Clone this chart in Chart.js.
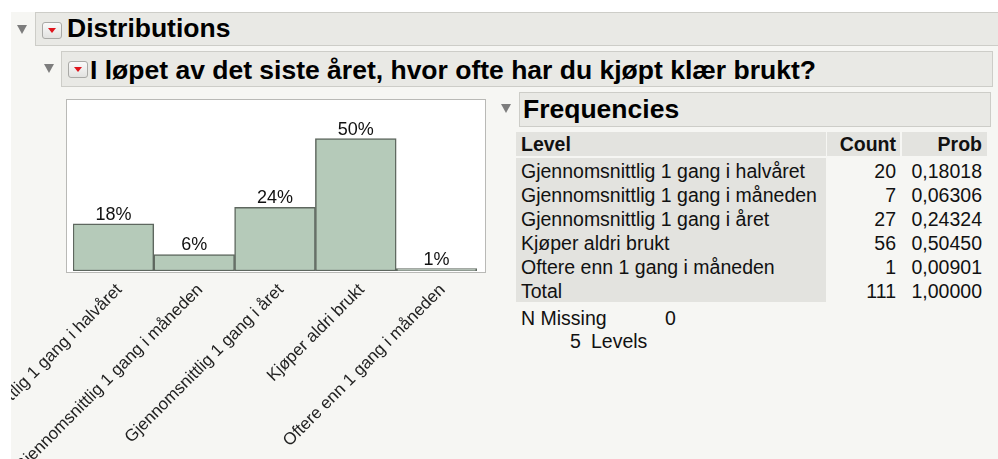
<!DOCTYPE html>
<html>
<head>
<meta charset="utf-8">
<script src="https://cdn.jsdelivr.net/npm/chart.js"></script>
<style>
  html, body { margin: 0; padding: 0; background: #fff; }
  body { width: 998px; height: 459px; overflow: hidden; position: relative;
         font-family: "Liberation Sans", Arial, Helvetica, sans-serif; color: #111; }
  .pane { position: absolute; left: 11px; top: 12px; right: 0; bottom: 0; background: #f6f6f3; }
  .hdr { position: absolute; box-sizing: border-box; background: #e9e9e5; border: 1px solid #cdcdc8; }
  .tri { position: absolute; width: 0; height: 0; border-left: 5px solid transparent;
         border-right: 5px solid transparent; border-top: 9px solid #7d7d7d; }
  .btn { position: absolute; box-sizing: border-box; width: 20px; height: 17px; border: 1px solid #a9a9a6;
         border-radius: 3px; background: linear-gradient(#fafafa, #e2e2e0); }
  .btn:after { content: ""; position: absolute; left: 4.5px; top: 5px; width: 0; height: 0;
         border-left: 4.5px solid transparent; border-right: 4.5px solid transparent; border-top: 5px solid #e0141c; }
  .t { position: absolute; white-space: nowrap; line-height: 1; }
  .h1 { font-weight: bold; font-size: 26.5px; color: #000; }
  .cell { position: absolute; box-sizing: border-box; background: #e3e3df; }
  .tx { font-size: 19.5px; }
  .b { font-weight: bold; }
  #frame { position: absolute; left: 66px; top: 99px; width: 420px; height: 174px; box-sizing: border-box;
           background: #fff; border: 1px solid #b9b9b6; }
  #wrap { position: absolute; left: 11px; top: 12px; width: 485px; height: 447px; }
</style>
</head>
<body>
<div class="pane"></div>

<!-- outline headers -->
<div class="tri" style="left:17px;top:25px"></div>
<div class="hdr" style="left:35px;top:12px;width:970px;height:34px"></div>
<div class="btn" style="left:42px;top:22px"></div>
<div class="t h1" style="left:67px;top:15px">Distributions</div>

<div class="tri" style="left:44px;top:64px"></div>
<div class="hdr" style="left:61px;top:51px;width:932px;height:36px"></div>
<div class="btn" style="left:68px;top:61px"></div>
<div class="t h1" style="left:90px;top:57px">I løpet av det siste året, hvor ofte har du kjøpt klær brukt?</div>

<div class="tri" style="left:501px;top:104px"></div>
<div class="hdr" style="left:519px;top:92px;width:472px;height:35px"></div>
<div class="t h1" style="left:523px;top:96px">Frequencies</div>

<div id="table"></div>

<div id="frame"></div>
<div id="wrap"><canvas id="distChart" width="485" height="447"></canvas></div>

<script>
const levels = [
  "Gjennomsnittlig 1 gang i halvåret",
  "Gjennomsnittlig 1 gang i måneden",
  "Gjennomsnittlig 1 gang i året",
  "Kjøper aldri brukt",
  "Oftere enn 1 gang i måneden",
];
const counts = [20, 7, 27, 56, 1];
const probs = [0.18018, 0.06306, 0.24324, 0.5045, 0.00901];
const totalCount = 111;
const totalProb = 1.0;
const nMissing = 0;

// Frequencies table
function addText(parent, text, left, top, cls, align) {
  const d = document.createElement("div");
  d.className = "t tx " + (cls || "");
  d.textContent = text;
  d.style.top = top + "px";
  if (align === "right") {
    d.style.right = 998 - left + "px";
  } else {
    d.style.left = left + "px";
  }
  parent.appendChild(d);
}

const table = document.getElementById("table");
const fmt = (v) => v.toFixed(5).replace(".", ",");

[
  [516, 132, 310, 24],
  [827, 132, 73, 24],
  [902, 132, 85, 24],
  [516, 158, 310, 144],
].forEach(function (c) {
  const d = document.createElement("div");
  d.className = "cell";
  d.style.cssText = `left:${c[0]}px;top:${c[1]}px;width:${c[2]}px;height:${c[3]}px`;
  table.appendChild(d);
});

addText(table, "Level", 521, 135, "b");
addText(table, "Count", 896, 135, "b", "right");
addText(table, "Prob", 982, 135, "b", "right");

const rowTop = 162;
const rowStep = 24;
levels.forEach(function (lvl, i) {
  const y = rowTop + i * rowStep;
  addText(table, lvl, 521, y);
  addText(table, String(counts[i]), 896, y, "", "right");
  addText(table, fmt(probs[i]), 982, y, "", "right");
});
const yTot = rowTop + levels.length * rowStep;
addText(table, "Total", 521, yTot);
addText(table, String(totalCount), 896, yTot, "", "right");
addText(table, fmt(totalProb), 982, yTot, "", "right");

addText(table, "N Missing", 521, 309);
addText(table, String(nMissing), 665, 309);
addText(table, String(levels.length), 570, 332);
addText(table, "Levels", 591, 332);

// Percent labels on top of the bars
const pctLabels = {
  id: "pctLabels",
  afterDatasetsDraw(chart) {
    const ctx = chart.ctx;
    const meta = chart.getDatasetMeta(0);
    ctx.save();
    ctx.font = '18px "Liberation Sans", Arial, sans-serif';
    ctx.fillStyle = "#111";
    ctx.textAlign = "center";
    ctx.textBaseline = "alphabetic";
    meta.data.forEach(function (bar, i) {
      ctx.fillText(Math.round(probs[i] * 100) + "%", bar.x, bar.y - 4);
    });
    ctx.restore();
  },
};

const ctx = document.getElementById("distChart").getContext("2d");
new Chart(ctx, {
  type: "bar",
  data: {
    labels: levels,
    datasets: [
      {
        data: probs,
        backgroundColor: "#b5cab9",
        borderColor: "#5e675f",
        borderWidth: 1.5,
        borderSkipped: false,
        barPercentage: 1,
        categoryPercentage: 1,
      },
    ],
  },
  options: {
    responsive: false,
    animation: false,
    layout: { padding: { left: 62, right: 19, top: 88, bottom: 0 } },
    plugins: { legend: { display: false }, tooltip: { enabled: false } },
    scales: {
      y: { display: false, min: 0, max: 0.652 },
      x: {
        grid: { display: false },
        border: { display: false },
        ticks: {
          autoSkip: false,
          minRotation: 45,
          maxRotation: 45,
          padding: 1,
          labelOffset: 6,
          color: "#222",
          font: { family: '"Liberation Sans", Arial, sans-serif', size: 17 },
        },
        afterFit: function (scale) {
          scale.height = 188;
          scale.paddingLeft = 0;
          scale.paddingRight = 0;
        },
      },
    },
  },
  plugins: [pctLabels],
});
</script>
</body>
</html>
